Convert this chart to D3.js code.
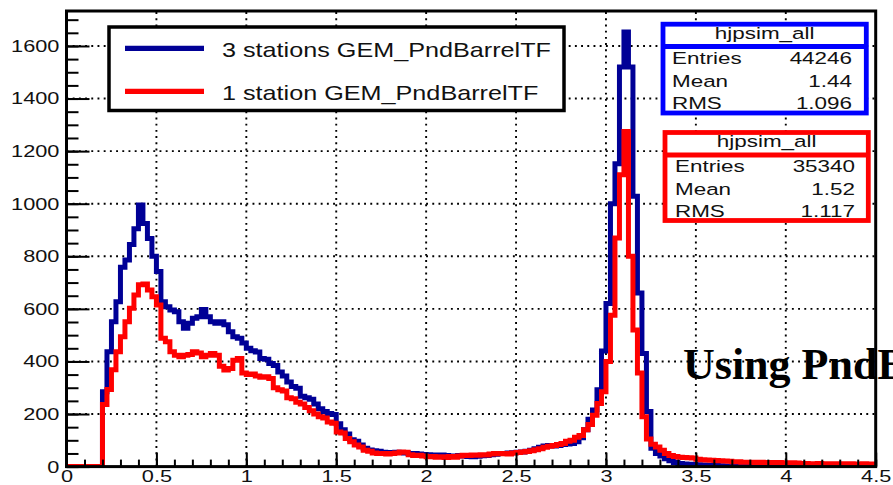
<!DOCTYPE html>
<html>
<head>
<meta charset="utf-8">
<script src="https://cdn.jsdelivr.net/npm/d3@7"></script>
<style>
  html, body { margin: 0; padding: 0; background: #fff; }
  svg { display: block; }
</style>
</head>
<body>
<svg id="chart" width="893" height="485"></svg>
<script>
// ---- histogram binning: 180 bins of 0.025 between 0 and 4.5 ----
const binLow = 0;
const binHigh = 4.5;
const binWidth = 0.025;

// bin contents, 3 stations GEM + PndBarrelTF
const threeStations = [
  0, 0, 0, 0, 0, 0, 0, 0,
  285, 437, 551, 627, 758, 786, 845, 905, 995, 925,
  868, 800, 742, 627, 608, 596, 589, 551, 526, 545,
  564, 570, 598, 570, 551, 545, 551, 540, 513, 494,
  488, 470, 450, 441, 436, 411, 408, 392, 385, 360,
  345, 322, 305, 298, 268, 262, 256, 238, 220, 210,
  202, 198, 163, 140, 124, 102, 96, 82, 70, 63,
  60, 58, 55, 54, 52, 55, 54, 52, 50, 50,
  48, 46, 45, 44, 43, 44, 42, 40, 38, 42,
  40, 38, 37, 39, 41, 42, 45, 47, 50, 50,
  52, 53, 55, 56, 58, 62, 68, 74, 78, 80,
  78, 80, 84, 86, 88, 95, 110, 140, 180, 215,
  292, 440, 620, 1000, 1152, 1520, 1653, 1520, 1028, 660,
  430, 210, 70, 50, 40, 30, 22, 16, 12, 10,
  9, 8, 7, 6, 5, 5, 4, 3, 2, 2,
  2, 2, 1, 1, 2, 1, 1, 1, 0, 1,
  1, 0, 1, 1, 0, 1, 0, 0, 1, 0,
  0, 1, 0, 0, 0, 1, 0, 0, 0, 0
];

// bin contents, 1 station GEM + PndBarrelTF
const oneStation = [
  0, 0, 0, 0, 0, 0, 0, 0,
  236, 293, 368, 437, 494, 551, 602, 653, 692, 695,
  672, 646, 615, 488, 475, 437, 424, 418, 424, 426,
  437, 432, 418, 424, 430, 424, 382, 367, 373, 405,
  411, 356, 350, 352, 345, 340, 342, 335, 300, 292,
  288, 262, 258, 245, 238, 225, 212, 200, 190, 185,
  170, 165, 132, 128, 107, 95, 82, 75, 62, 58,
  52, 50, 50, 48, 50, 52, 56, 55, 45, 42,
  43, 40, 37, 38, 36, 37, 35, 38, 36, 40,
  43, 42, 44, 43, 45, 44, 48, 50, 49, 50,
  48, 52, 54, 56, 57, 60, 64, 68, 74, 77,
  80, 84, 88, 96, 100, 112, 118, 140, 160, 195,
  240, 285, 400, 576, 870, 1110, 1275, 800, 520, 356,
  190, 105, 85, 75, 62, 50, 42, 38, 36, 35,
  34, 33, 28, 26, 25, 24, 23, 22, 21, 20,
  18, 18, 17, 17, 17, 16, 17, 16, 16, 15,
  16, 15, 15, 15, 14, 12, 12, 11, 11, 12,
  11, 11, 10, 11, 11, 10, 11, 10, 10, 11,
  10, 10
];

const xTickValues = [0, 0.5, 1, 1.5, 2, 2.5, 3, 3.5, 4, 4.5];
const xMinorValues = d3.range(0, 46).map(i => i / 10);
const yTickValues = [0, 200, 400, 600, 800, 1000, 1200, 1400, 1600];
const yMinorValues = d3.range(0, 35).map(i => i * 50);
const yMax = 1733;

const seriesNames = ["3 stations GEM_PndBarrelTF", "1 station GEM_PndBarrelTF"];
const statsTitle = "hjpsim_all";
const statsLabels = ["Entries", "Mean", "RMS"];
const statsThree = ["44246", "1.44", "1.096"];
const statsOne = ["35340", "1.52", "1.117"];
const overlayText = "Using PndBarrelTF";

// ---- colours ----
const colThree = "#000096";
const colOne = "#ff0000";
const colBoxThree = "#0000ff";
const colBoxOne = "#ff0000";

const sansFont = "'Liberation Sans', Arial, Helvetica, sans-serif";
const serifFont = "'Liberation Serif', 'Times New Roman', serif";

// ---- frame geometry ----
const frame = { left: 66.5, right: 875.7, top: 11, bottom: 466.6 };

const svg = d3.select("#chart");

const x = d3.scaleLinear().domain([binLow, binHigh]).range([frame.left, frame.right]);
const y = d3.scaleLinear().domain([0, yMax]).range([frame.bottom, frame.top]);

svg.append("rect").attr("width", 893).attr("height", 485).attr("fill", "#fff");

svg.append("defs").append("clipPath").attr("id", "frameClip")
  .append("rect")
  .attr("x", frame.left).attr("y", frame.top)
  .attr("width", frame.right - frame.left).attr("height", frame.bottom - frame.top);

// ---- dotted grid at the labelled ticks ----
const grid = svg.append("g").attr("stroke", "#000").attr("stroke-width", 1.9)
  .attr("stroke-dasharray", "1.9,4.3");
grid.selectAll("line.gx")
  .data(xTickValues.filter(v => v > binLow && v < binHigh))
  .join("line").attr("class", "gx")
  .attr("x1", d => x(d)).attr("x2", d => x(d))
  .attr("y1", frame.bottom).attr("y2", frame.top);
grid.selectAll("line.gy")
  .data(yTickValues.filter(v => v > 0))
  .join("line").attr("class", "gy")
  .attr("x1", frame.left).attr("x2", frame.right)
  .attr("y1", d => y(d)).attr("y2", d => y(d));

// ---- histogram outlines ----
function outline(vals) {
  const pts = vals.map((v, i) => [binLow + i * binWidth, v]);
  pts.push([binHigh, vals[vals.length - 1]]);
  return d3.line()
    .x(d => x(d[0]))
    .y(d => y(d[1]))
    .curve(d3.curveStepAfter)(pts);
}

const hists = svg.append("g").attr("clip-path", "url(#frameClip)");
hists.append("path").attr("d", outline(threeStations))
  .attr("fill", "none").attr("stroke", colThree).attr("stroke-width", 5)
  .attr("stroke-linejoin", "miter");
hists.append("path").attr("d", outline(oneStation))
  .attr("fill", "none").attr("stroke", colOne).attr("stroke-width", 5)
  .attr("stroke-linejoin", "miter");

// ---- axes (ticks point inside the frame) ----
const labelStretch = 1.28;

const xAxis = svg.append("g").attr("transform", `translate(0,${frame.bottom})`)
  .call(d3.axisBottom(x).tickValues(xTickValues).tickSize(-14).tickPadding(3.5)
    .tickFormat(d3.format("")));
xAxis.select(".domain").remove();
xAxis.selectAll(".tick line").attr("stroke", "#000").attr("stroke-width", 2);
xAxis.selectAll(".tick text").attr("font-size", 17).attr("fill", "#111")
  .style("font-family", sansFont)
  .attr("transform", `scale(${labelStretch},1)`);

const xMinor = svg.append("g").attr("transform", `translate(0,${frame.bottom})`)
  .call(d3.axisBottom(x).tickValues(xMinorValues).tickSize(-7).tickFormat(""));
xMinor.select(".domain").remove();
xMinor.selectAll(".tick line").attr("stroke", "#000").attr("stroke-width", 2);

const yAxis = svg.append("g").attr("transform", `translate(${frame.left},0)`)
  .call(d3.axisLeft(y).tickValues(yTickValues).tickSize(-23).tickPadding(5.5)
    .tickFormat(d3.format("")));
yAxis.select(".domain").remove();
yAxis.selectAll(".tick line").attr("stroke", "#000").attr("stroke-width", 2);
yAxis.selectAll(".tick text").attr("font-size", 17).attr("fill", "#111")
  .style("font-family", sansFont)
  .attr("transform", `scale(${labelStretch},1)`);

const yMinor = svg.append("g").attr("transform", `translate(${frame.left},0)`)
  .call(d3.axisLeft(y).tickValues(yMinorValues).tickSize(-12).tickFormat(""));
yMinor.select(".domain").remove();
yMinor.selectAll(".tick line").attr("stroke", "#000").attr("stroke-width", 2);

// frame
svg.append("rect")
  .attr("x", frame.left).attr("y", frame.top)
  .attr("width", frame.right - frame.left).attr("height", frame.bottom - frame.top)
  .attr("fill", "none").attr("stroke", "#000").attr("stroke-width", 3);

// ---- stretched text helper ----
function label(parent, str, px, py, size, sx, anchor) {
  return parent.append("text")
    .attr("transform", `translate(${px},${py}) scale(${sx},1)`)
    .attr("font-size", size)
    .attr("text-anchor", anchor || "start")
    .attr("fill", "#111")
    .style("font-family", sansFont)
    .text(str);
}

// ---- legend ----
const legend = svg.append("g");
legend.append("rect")
  .attr("x", 109).attr("y", 27).attr("width", 455).attr("height", 83.5)
  .attr("fill", "#fff").attr("stroke", "#000").attr("stroke-width", 3.5);
const legendRows = [
  { name: seriesNames[0], color: colThree, ly: 48.3, by: 57.3 },
  { name: seriesNames[1], color: colOne, ly: 91.3, by: 100 }
];
legendRows.forEach(r => {
  legend.append("line")
    .attr("x1", 125).attr("x2", 204).attr("y1", r.ly).attr("y2", r.ly)
    .attr("stroke", r.color).attr("stroke-width", 5.3);
  label(legend, r.name, 222, r.by, 20, 1.26, "start");
});

// ---- statistics boxes ----
function statsBox(box, values, color) {
  const g = svg.append("g");
  g.append("rect")
    .attr("x", box.x0).attr("y", box.y0)
    .attr("width", box.x1 - box.x0).attr("height", box.y1 - box.y0)
    .attr("fill", "#fff").attr("stroke", color).attr("stroke-width", 4.8);
  g.append("line")
    .attr("x1", box.x0).attr("x2", box.x1).attr("y1", box.div).attr("y2", box.div)
    .attr("stroke", color).attr("stroke-width", 4.8);
  label(g, statsTitle, (box.x0 + box.x1) / 2, box.titleY, 17, 1.32, "middle");
  statsLabels.forEach((name, i) => {
    label(g, name, box.textX, box.rows[i], 17, 1.32, "start");
    label(g, values[i], box.valueX, box.rows[i], 17, 1.32, "end");
  });
}

statsBox({ x0: 663, x1: 866.3, y0: 24.2, y1: 113, div: 46.5, titleY: 38.5,
           textX: 672, valueX: 852, rows: [63.5, 86.5, 108.5] }, statsThree, colBoxThree);
statsBox({ x0: 665, x1: 868.3, y0: 132.5, y1: 220.5, div: 155, titleY: 147,
           textX: 675, valueX: 855, rows: [171.5, 194.5, 217] }, statsOne, colBoxOne);

// ---- overlay caption (runs past the right edge of the page) ----
svg.append("text")
  .attr("x", 683).attr("y", 379)
  .style("font-family", serifFont)
  .attr("font-weight", "bold")
  .attr("font-size", 44)
  .attr("fill", "#000")
  .text(overlayText);
</script>
</body>
</html>
